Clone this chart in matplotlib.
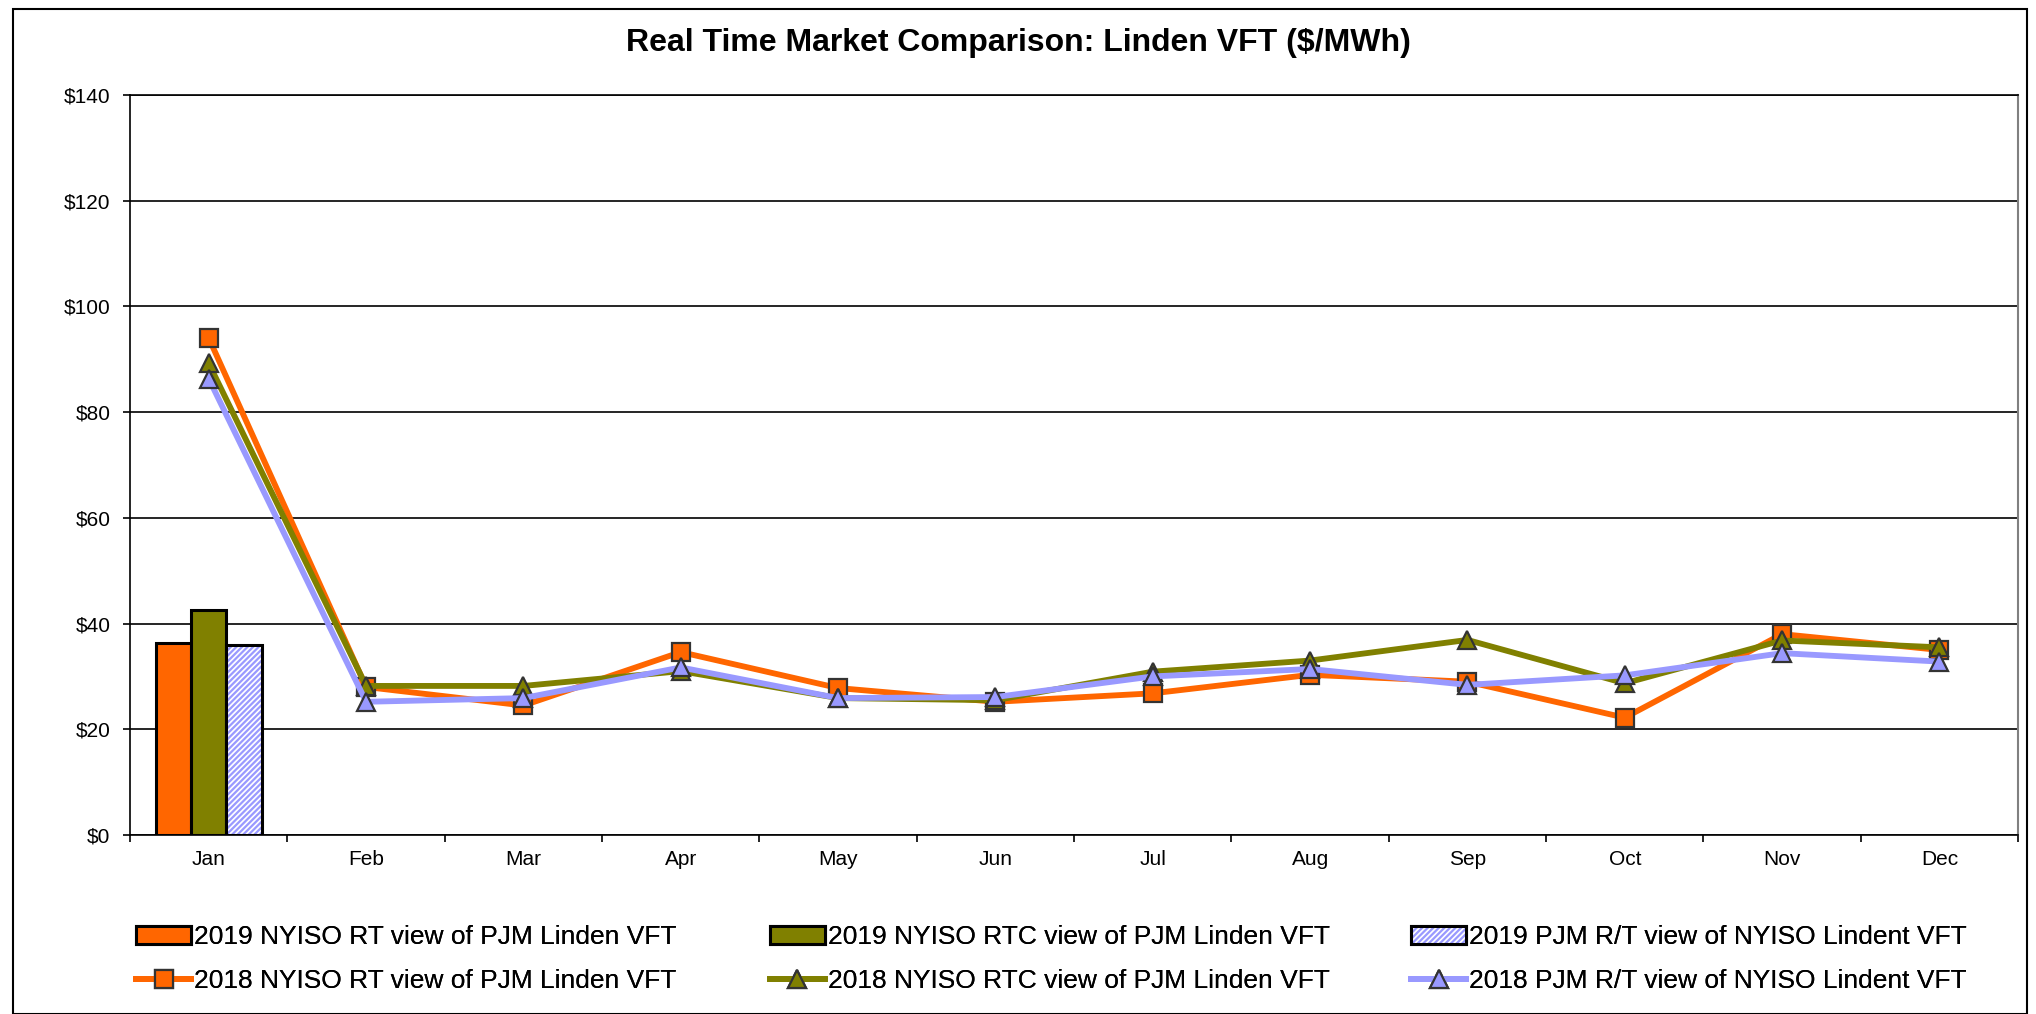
import matplotlib
matplotlib.use("Agg")
import matplotlib.pyplot as plt
import numpy as np
from matplotlib.patches import Rectangle
from matplotlib.ticker import FuncFormatter

plt.rcParams['font.family'] = ['Liberation Sans', 'DejaVu Sans']
plt.rcParams['hatch.linewidth'] = 1.6

# data
months = ["Jan", "Feb", "Mar", "Apr", "May", "Jun", "Jul", "Aug", "Sep", "Oct", "Nov", "Dec"]

bar_2019_rt = [36.3]
bar_2019_rtc = [42.6]
bar_2019_pjm = [35.9]

line_2018_rt = [94.0, 28.0, 24.5, 34.6, 27.8, 25.2, 26.8, 30.3, 29.0, 22.2, 38.0, 35.0]
line_2018_rtc = [89.2, 28.2, 28.2, 31.0, 25.9, 25.5, 30.9, 33.0, 36.9, 28.7, 36.8, 35.5]
line_2018_pjm = [86.3, 25.2, 25.9, 31.7, 25.9, 26.1, 30.0, 31.4, 28.4, 30.2, 34.4, 32.8]

labels = [
    "2019 NYISO RT view of PJM Linden VFT",
    "2019 NYISO RTC view of PJM Linden VFT",
    "2019 PJM R/T view of NYISO Lindent VFT",
    "2018 NYISO RT view of PJM Linden VFT",
    "2018 NYISO RTC view of PJM Linden VFT",
    "2018 PJM R/T view of NYISO Lindent VFT",
]

c_orange = "#FF6600"
c_olive = "#808000"
c_blue = "#9999FF"

fig = plt.figure(figsize=(20.36, 10.14), dpi=100)
ax = fig.add_axes([0.0639, 0.1765, 0.9273, 0.7300])

x = np.arange(len(months))
w = 0.225
b1 = ax.bar([0 - w], bar_2019_rt, w, color=c_orange, edgecolor="black", linewidth=2.2, zorder=2)
b2 = ax.bar([0], bar_2019_rtc, w, color=c_olive, edgecolor="black", linewidth=2.2, zorder=2)
# hatched bar: blue hatch on white, black outline drawn on top
b3a = ax.bar([0 + w], bar_2019_pjm, w, color="white", edgecolor=c_blue, linewidth=0,
             hatch="//////", zorder=2)
b3b = ax.bar([0 + w], bar_2019_pjm, w, fill=False, edgecolor="black", linewidth=2.2, zorder=2)

mk = dict(markersize=13, markeredgecolor="#333333", markeredgewidth=1.6, linewidth=4.2)
l1, = ax.plot(x, line_2018_rt, color=c_orange, marker="s", markerfacecolor=c_orange, zorder=3, **mk)
l2, = ax.plot(x, line_2018_rtc, color=c_olive, marker="^", markerfacecolor=c_olive, zorder=4, **mk)
l3, = ax.plot(x, line_2018_pjm, color=c_blue, marker="^", markerfacecolor=c_blue, zorder=5, **mk)

ax.set_xlim(-0.5, 11.5)
ax.set_ylim(0, 140)
ax.set_yticks(np.arange(0, 141, 20))
ax.yaxis.set_major_formatter(FuncFormatter(lambda v, p: "$%d" % v))
ax.set_xticks(x)
ax.set_xticklabels(months)
ax.set_xticks(np.arange(-0.5, 12, 1), minor=True)
ax.tick_params(axis="x", which="major", length=0, labelsize=15, pad=11)
ax.tick_params(axis="x", which="minor", length=5, width=1.2, direction="out")
ax.tick_params(axis="y", length=5, width=1.2, direction="out", labelsize=15, pad=9)
ax.grid(axis="y", color="black", linewidth=1.2, zorder=0)
ax.set_axisbelow(True)
ax.spines["top"].set_linewidth(1.2)
ax.spines["right"].set_color("#808080")
ax.spines["right"].set_linewidth(1.5)
ax.spines["left"].set_linewidth(1.2)
ax.spines["bottom"].set_linewidth(1.2)

fig.text(0.5, 0.958, "Real Time Market Comparison: Linden VFT ($/MWh)",
         ha="center", va="center", fontsize=23, fontweight="bold")

# legend: three fixed columns, two rows each
cols = [
    ([b1.patches[0], l1], [labels[0], labels[3]], 0.0668),
    ([b2.patches[0], l2], [labels[1], labels[4]], 0.378),
    ([(b3a.patches[0], b3b.patches[0]), l3], [labels[2], labels[5]], 0.693),
]
for hs, ls, xpos in cols:
    leg = fig.legend(hs, ls, loc="center left", bbox_to_anchor=(xpos, 0.054),
                     frameon=False, fontsize=19, handlelength=2.1, handletextpad=0.1,
                     labelspacing=0.75, borderpad=0, borderaxespad=0)
    fig.add_artist(leg)

fig.patches.append(Rectangle((0.0062, 0.0), 0.9894, 0.9911, transform=fig.transFigure,
                             fill=False, edgecolor="black", linewidth=1.5))

fig.savefig("out.png", dpi=100)
